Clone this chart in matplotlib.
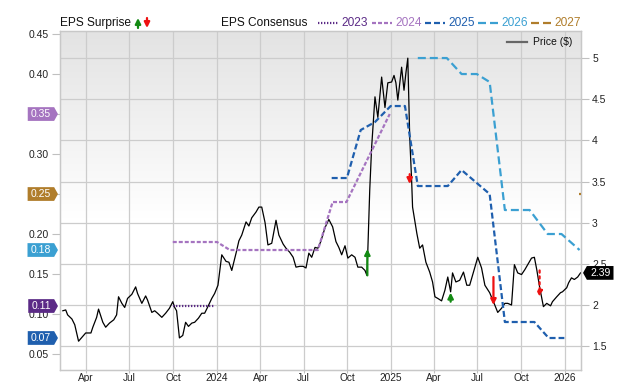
import numpy as np
import pandas as pd
import matplotlib
matplotlib.use("Agg")
import matplotlib.pyplot as plt
import matplotlib.dates as mdates
from matplotlib.path import Path
from matplotlib.lines import Line2D
from matplotlib.patches import FancyArrowPatch
from matplotlib.ticker import FixedLocator, FuncFormatter

plt.rcParams['font.family'] = ['Liberation Sans', 'DejaVu Sans']

# ---- price ($), right axis ----
price_dates = [
    "2023-02-11", "2023-02-17", "2023-02-21", "2023-03-02", "2023-03-08", "2023-03-16", "2023-03-25", "2023-03-31",
    "2023-04-11", "2023-04-15", "2023-04-23", "2023-04-27", "2023-05-06", "2023-05-12", "2023-05-20", "2023-05-29",
    "2023-06-04", "2023-06-08", "2023-06-15", "2023-06-21", "2023-06-27", "2023-07-06", "2023-07-14", "2023-07-18",
    "2023-07-27", "2023-08-04", "2023-08-08", "2023-08-17", "2023-08-23", "2023-08-29", "2023-09-07", "2023-09-15",
    "2023-09-23", "2023-09-30", "2023-10-04", "2023-10-08", "2023-10-14", "2023-10-21", "2023-10-27", "2023-11-02",
    "2023-11-09", "2023-11-15", "2023-11-23", "2023-11-30", "2023-12-06", "2023-12-12", "2023-12-21", "2023-12-27",
    "2024-01-03", "2024-01-07", "2024-01-11", "2024-01-20", "2024-01-26", "2024-02-01", "2024-02-10", "2024-02-16",
    "2024-02-22", "2024-03-02", "2024-03-08", "2024-03-14", "2024-03-23", "2024-03-29", "2024-04-04", "2024-04-11",
    "2024-04-17", "2024-04-25", "2024-05-04", "2024-05-10", "2024-05-19", "2024-05-25", "2024-06-02", "2024-06-09",
    "2024-06-15", "2024-06-23", "2024-06-30", "2024-07-06", "2024-07-12", "2024-07-18", "2024-07-25", "2024-07-31",
    "2024-08-06", "2024-08-15", "2024-08-23", "2024-08-31", "2024-09-07", "2024-09-13", "2024-09-19", "2024-09-26",
    "2024-10-02", "2024-10-10", "2024-10-17", "2024-10-23", "2024-10-31", "2024-11-07", "2024-11-11", "2024-11-13",
    "2024-11-17", "2024-11-21", "2024-11-28", "2024-12-04", "2024-12-12", "2024-12-19", "2024-12-25",
    "2025-01-02", "2025-01-07", "2025-01-11", "2025-01-15", "2025-01-23", "2025-01-28", "2025-02-01", "2025-02-05",
    "2025-02-09", "2025-02-13", "2025-02-15", "2025-02-24", "2025-03-02", "2025-03-08", "2025-03-15", "2025-03-23",
    "2025-03-29", "2025-04-03", "2025-04-09", "2025-04-17", "2025-04-24", "2025-04-30", "2025-05-06", "2025-05-10",
    "2025-05-17", "2025-05-25", "2025-06-02", "2025-06-09", "2025-06-15", "2025-06-23", "2025-07-02", "2025-07-10",
    "2025-07-17", "2025-07-27", "2025-08-04", "2025-08-13", "2025-08-21", "2025-08-28", "2025-09-03", "2025-09-11",
    "2025-09-17", "2025-09-24", "2025-10-02", "2025-10-09", "2025-10-15", "2025-10-23", "2025-10-29", "2025-11-03",
    "2025-11-09", "2025-11-17", "2025-11-24", "2025-12-02", "2025-12-06", "2025-12-15", "2025-12-23", "2025-12-27",
    "2026-01-05", "2026-01-09", "2026-01-15", "2026-01-21", "2026-01-28", "2026-02-03"]
prices = [
    1.93, 1.94, 1.88, 1.83, 1.76, 1.56, 1.62, 1.66, 1.66, 1.73, 1.85, 1.95, 1.79, 1.73, 1.78, 1.82,
    1.88, 2.10, 2.02, 1.97, 2.08, 2.13, 2.22, 2.14, 2.02, 2.11, 2.06, 1.91, 1.93, 1.90, 1.85, 1.90,
    1.96, 2.04, 1.97, 1.93, 1.60, 1.63, 1.79, 1.74, 1.78, 1.79, 1.84, 1.90, 1.90, 1.97, 2.08, 2.14,
    2.24, 2.42, 2.61, 2.53, 2.52, 2.42, 2.63, 2.78, 2.85, 3.01, 2.96, 3.06, 3.13, 3.19, 3.19, 3.00,
    2.73, 2.75, 3.03, 2.85, 2.74, 2.69, 2.64, 2.58, 2.46, 2.47, 2.47, 2.45, 2.63, 2.58, 2.70, 2.69,
    2.77, 2.94, 3.04, 2.95, 2.77, 2.70, 2.61, 2.72, 2.57, 2.61, 2.58, 2.46, 2.46, 2.42, 2.36, 2.67,
    3.40, 3.92, 4.53, 4.28, 4.77, 4.40, 4.70,
    4.71, 4.79, 4.70, 4.49, 4.89, 4.61, 4.82, 5.00, 4.04, 3.52, 3.19, 2.87, 2.69, 2.73, 2.52, 2.40,
    2.28, 2.10, 2.08, 2.05, 2.18, 2.34, 2.16, 2.39, 2.28, 2.30, 2.40, 2.24, 2.24, 2.40, 2.58, 2.45,
    2.24, 2.15, 2.04, 1.91, 1.96, 2.02, 2.02, 2.00, 2.49, 2.39, 2.37, 2.43, 2.49, 2.57, 2.58, 2.43,
    2.22, 1.98, 2.02, 1.99, 2.04, 2.10, 2.15, 2.16,
    2.21, 2.27, 2.33, 2.31, 2.34, 2.39]
last_price = 2.39

# ---- EPS consensus by fiscal year, left axis ----
eps23_dates = ["2023-09-30", "2023-12-28"]
eps23 = [0.11, 0.11]
eps24_dates = ["2023-09-30", "2024-01-01", "2024-01-28", "2024-07-31", "2024-08-31", "2024-09-29", "2024-12-29"]
eps24 = [0.19, 0.19, 0.18, 0.18, 0.24, 0.24, 0.35]
eps25_dates = ["2024-08-29", "2024-09-30", "2024-10-29", "2024-11-28", "2024-12-31", "2025-01-30", "2025-02-26",
               "2025-04-30", "2025-05-29", "2025-07-27", "2025-08-28", "2025-10-29", "2025-11-28", "2025-12-31"]
eps25 = [0.27, 0.27, 0.33, 0.34, 0.36, 0.36, 0.26, 0.26, 0.28, 0.25, 0.09, 0.09, 0.07, 0.07]
eps26_dates = ["2025-02-26", "2025-04-28", "2025-05-29", "2025-06-30", "2025-07-27", "2025-08-28", "2025-10-19",
               "2025-11-26", "2025-12-25", "2026-02-01"]
eps26 = [0.42, 0.42, 0.40, 0.40, 0.39, 0.23, 0.23, 0.20, 0.20, 0.18]
eps27_dates = ["2026-01-30", "2026-02-03"]
eps27 = [0.25, 0.25]

years = ["2023", "2024", "2025", "2026", "2027"]
year_colors = ["#5b2a86", "#a574c0", "#1f5fae", "#3ba0d2", "#b07d2b"]
last_eps = [0.11, 0.35, 0.07, 0.18, 0.25]

# ---- EPS surprise arrows (price axis) ----
surprise_dates = ["2024-11-12", "2025-02-09", "2025-05-06", "2025-08-04", "2025-11-09"]
surprise_from = [2.36, 3.59, 2.04, 2.34, 2.42]
surprise_to = [2.68, 3.47, 2.15, 2.00, 2.10]
surprise_kind = ["beat", "miss", "beat", "miss", "pending"]

GREEN = "#138a13"
RED = "#ee1111"
GRID = "#cccccc"


def tag_tip_right(x0, y0, width, height, mutation_size):
    pad = 0.3 * mutation_size
    x0, y0, width, height = x0 - pad, y0 - pad * 0.6, width + 2 * pad, height + 1.2 * pad
    t = height * 0.28
    return Path([(x0, y0), (x0 + width, y0), (x0 + width + t, y0 + height / 2),
                 (x0 + width, y0 + height), (x0, y0 + height), (x0, y0)], closed=True)


def tag_tip_left(x0, y0, width, height, mutation_size):
    pad = 0.3 * mutation_size
    x0, y0, width, height = x0 - pad, y0 - pad * 0.6, width + 2 * pad, height + 1.2 * pad
    t = height * 0.28
    return Path([(x0, y0), (x0 + width, y0), (x0 + width, y0 + height),
                 (x0, y0 + height), (x0 - t, y0 + height / 2), (x0, y0)], closed=True)


fig = plt.figure(figsize=(6.4, 3.82), dpi=100)
ax = fig.add_axes([60 / 640, 12 / 382, 521 / 640, 339 / 382])
ax2 = ax.twinx()

# gradient background (grey on top fading to white)
h = np.linspace(0, 1, 256)
g = np.clip((h - 0.45) / 0.55, 0, 1)
top = np.array([0.89, 0.89, 0.89])
col = 1 - g[:, None] * (1 - top[None, :])
grad = np.repeat(col[:, None, :], 2, axis=1)
ax.imshow(grad, extent=[0, 1, 0, 1], transform=ax.transAxes, origin="lower",
          aspect="auto", zorder=0, interpolation="bilinear")

# price line
pd_dates = pd.to_datetime(price_dates)
ax.plot(pd_dates, prices, color="black", lw=0.9, zorder=3)

# consensus lines
styles = [(0, (0.6, 0.75)), (0, (1.8, 0.9)), (0, (2.7, 1.35)), (0, (3.6, 1.8)), (0, (3.6, 1.8))]
series = [(eps23_dates, eps23), (eps24_dates, eps24), (eps25_dates, eps25), (eps26_dates, eps26),
          (eps27_dates, eps27)]
for (dts, vals), c, ls in zip(series, year_colors, styles):
    ax2.plot(pd.to_datetime(dts), vals, color=c, lw=1.6, linestyle=ls, zorder=3)

# surprise arrows, drawn on top
for d, p0, p1, kind in zip(surprise_dates, surprise_from, surprise_to, surprise_kind):
    x = mdates.date2num(pd.Timestamp(d))
    c = GREEN if kind == "beat" else RED
    ls = ":" if kind == "pending" else "-"
    ax2.annotate("", xy=(x, p1), xycoords=ax.transData, xytext=(x, p0), textcoords=ax.transData,
                 arrowprops=dict(arrowstyle="-|>", color=c, lw=1.6, linestyle=ls,
                                 mutation_scale=8, shrinkA=0, shrinkB=0),
                 zorder=6)

# axes limits
ax.set_xlim(pd.Timestamp("2023-02-05"), pd.Timestamp("2026-02-04"))
ax.set_ylim(1.21, 5.33)
ax2.set_ylim(0.03, 0.4538)

# price axis on the right, EPS axis on the left
ax.yaxis.tick_right()
ax2.yaxis.tick_left()
ax.yaxis.set_major_locator(FixedLocator(np.arange(1.5, 5.01, 0.5)))
ax.yaxis.set_major_formatter(FuncFormatter(lambda v, p: f"{v:g}"))
ax2.yaxis.set_major_locator(FixedLocator(np.arange(0.05, 0.451, 0.05)))
ax2.yaxis.set_major_formatter(FuncFormatter(lambda v, p: f"{v:.2f}"))

ax.xaxis.set_major_locator(mdates.MonthLocator(bymonth=[1, 4, 7, 10]))
ax.xaxis.set_major_formatter(FuncFormatter(
    lambda v, p: mdates.num2date(v).strftime("%Y") if mdates.num2date(v).month == 1
    else mdates.num2date(v).strftime("%b")))

for a in (ax, ax2):
    a.tick_params(axis="both", color="#c0c0c0", labelcolor="#222222", labelsize=7.5, width=0.8)
    for s in a.spines.values():
        s.set_color("#c8c8c8")
        s.set_linewidth(0.9)
ax.tick_params(axis="y", length=6, pad=2, right=True, left=False, labelright=True, labelleft=False)
ax2.tick_params(axis="y", length=6, pad=2, left=True, right=False, labelleft=True, labelright=False)
ax.tick_params(axis="x", length=2, pad=0, labelsize=7.3)

ax.set_axisbelow(True)
ax.grid(True, color=GRID, lw=0.9)

# value tags on the left axis
for v, c in zip(last_eps, year_colors):
    ax2.annotate(f"{v:.2f}", xy=(0, v), xycoords=ax2.get_yaxis_transform(),
                 xytext=(-9, 0), textcoords="offset pixels", ha="right", va="center",
                 color="white", fontsize=7.5, annotation_clip=False, zorder=10,
                 bbox=dict(boxstyle=tag_tip_right, fc=c, ec="none"))

# last price tag on the right axis
ax2.annotate(f"{last_price:.2f}", xy=(1, last_price), xycoords=(ax2.transAxes, ax.transData),
             xytext=(9, 0), textcoords="offset pixels", ha="left", va="center",
             color="white", fontsize=7.5, annotation_clip=False, zorder=10,
             bbox=dict(boxstyle=tag_tip_left, fc="black", ec="none"))


# header legends
def fy(ypix):
    return 1 - ypix / 382


fig.text(60 / 640, fy(23), "EPS Surprise", fontsize=8.6, va="center", color="#111111")
fig.add_artist(FancyArrowPatch((138 / 640, fy(28)), (138 / 640, fy(18)), transform=fig.transFigure,
                               arrowstyle="-|>", mutation_scale=8, color=GREEN, lw=1.6,
                               shrinkA=0, shrinkB=0))
fig.add_artist(FancyArrowPatch((147 / 640, fy(18)), (147 / 640, fy(28)), transform=fig.transFigure,
                               arrowstyle="-|>", mutation_scale=8, color=RED, lw=1.6,
                               shrinkA=0, shrinkB=0))
fig.text(221 / 640, fy(23), "EPS Consensus", fontsize=8.6, va="center", color="#111111")

sw_x = [318, 372, 425, 478, 531]
for x0, yr, c, ls in zip(sw_x, years, year_colors, styles):
    fig.add_artist(Line2D([x0 / 640, (x0 + 20) / 640], [fy(23), fy(23)], transform=fig.transFigure,
                          color=c, lw=1.6, linestyle=ls))
    fig.text((x0 + 23) / 640, fy(23), yr, fontsize=8.6, va="center", color=c)

fig.add_artist(Line2D([507 / 640, 527 / 640], [fy(42), fy(42)], transform=fig.transFigure,
                      color="#666666", lw=1.6))
fig.text(533 / 640, fy(42), "Price ($)", fontsize=7.5, va="center", color="#111111")

fig.savefig("out.png", dpi=100)
